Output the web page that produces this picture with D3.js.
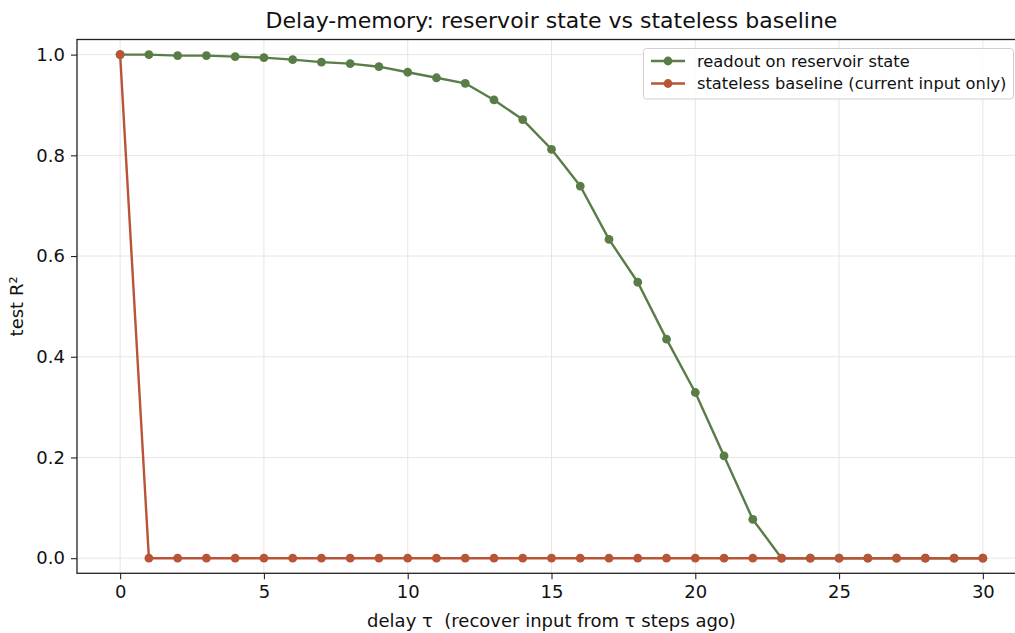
<!DOCTYPE html>
<html>
<head>
<meta charset="utf-8">
<script src="https://cdn.jsdelivr.net/npm/d3@7"></script>
<style>
  body { margin: 0; background: #fff; }
  svg { display: block; font-family: "DejaVu Sans", sans-serif; }
</style>
</head>
<body>
<svg id="chart" width="1015" height="633"></svg>
<script>
// delay values (x) and test R² for each series
const delays = [0, 1, 2, 3, 4, 5, 6, 7, 8, 9, 10, 11, 12, 13, 14, 15, 16, 17, 18, 19, 20, 21, 22, 23, 24, 25, 26, 27, 28, 29, 30];
const reservoirR2 = [1.0, 1.0, 0.998, 0.998, 0.996, 0.994, 0.990, 0.985, 0.982, 0.976, 0.965, 0.954, 0.943, 0.910, 0.871, 0.812, 0.739, 0.633, 0.548, 0.435, 0.329, 0.203, 0.077, 0, 0, 0, 0, 0, 0, 0, 0];
const baselineR2 = [1.0, 0, 0, 0, 0, 0, 0, 0, 0, 0, 0, 0, 0, 0, 0, 0, 0, 0, 0, 0, 0, 0, 0, 0, 0, 0, 0, 0, 0, 0, 0];
const xTicks = [0, 5, 10, 15, 20, 25, 30];
const yTicks = [0.0, 0.2, 0.4, 0.6, 0.8, 1.0];
const seriesNames = ["readout on reservoir state", "stateless baseline (current input only)"];

const green = "#5a7d48";
const red = "#b85537";

const margin = { top: 39.5, right: -11, bottom: 59.7, left: 77 };
const W = 1015, H = 633;

const svg = d3.select("#chart");

const x = d3.scaleLinear()
  .domain([-1.5, 31.5])
  .range([margin.left, W - margin.right]);
const y = d3.scaleLinear()
  .domain([-0.03, 1.03])
  .range([H - margin.bottom, margin.top]);

// grid
const grid = svg.append("g");
grid.selectAll(".gx").data(xTicks).enter().append("line")
  .attr("x1", d => x(d)).attr("x2", d => x(d))
  .attr("y1", margin.top).attr("y2", H - margin.bottom)
  .attr("stroke", "#e6e6e6").attr("stroke-width", 1);
grid.selectAll(".gy").data(yTicks).enter().append("line")
  .attr("y1", d => y(d)).attr("y2", d => y(d))
  .attr("x1", margin.left).attr("x2", W - margin.right)
  .attr("stroke", "#e6e6e6").attr("stroke-width", 1);

// axes
const xAxis = svg.append("g")
  .attr("transform", `translate(0,${H - margin.bottom})`)
  .call(d3.axisBottom(x).tickValues(xTicks).tickFormat(d3.format("d")).tickSizeOuter(0).tickSize(6).tickPadding(6));
const yAxis = svg.append("g")
  .attr("transform", `translate(${margin.left},0)`)
  .call(d3.axisLeft(y).tickValues(yTicks).tickFormat(d3.format(".1f")).tickSizeOuter(0).tickSize(6).tickPadding(6));

[xAxis, yAxis].forEach(a => {
  a.select(".domain").remove();
  a.selectAll("line").attr("stroke", "#222").attr("stroke-width", 1.1);
  a.selectAll("text").attr("fill", "#111").style("font-size", "18px").style("font-family", "DejaVu Sans");
});

// spines
svg.append("rect")
  .attr("x", margin.left).attr("y", margin.top)
  .attr("width", x.range()[1] - margin.left)
  .attr("height", H - margin.bottom - margin.top)
  .attr("fill", "none").attr("stroke", "#222").attr("stroke-width", 1.3);

// lines + markers
const line = d3.line().x(d => x(d[0])).y(d => y(d[1]));
const series = [
  { values: reservoirR2, color: green },
  { values: baselineR2, color: red }
];
series.forEach(s => {
  const pts = delays.map((d, i) => [d, s.values[i]]);
  svg.append("path").datum(pts)
    .attr("d", line)
    .attr("fill", "none")
    .attr("stroke", s.color)
    .attr("stroke-width", 2.4)
    .attr("stroke-linejoin", "round");
  svg.append("g").selectAll("circle").data(pts).enter().append("circle")
    .attr("cx", d => x(d[0])).attr("cy", d => y(d[1]))
    .attr("r", 4.4).attr("fill", s.color);
});

// title and labels
svg.append("text")
  .attr("x", (margin.left + x.range()[1]) / 2).attr("y", 28)
  .attr("text-anchor", "middle")
  .style("font-size", "22px").attr("fill", "#111")
  .text("Delay-memory: reservoir state vs stateless baseline");
svg.append("text")
  .attr("x", (margin.left + x.range()[1]) / 2).attr("y", 627)
  .attr("text-anchor", "middle")
  .style("font-size", "18px").style("white-space", "pre").attr("fill", "#111")
  .text("delay τ  (recover input from τ steps ago)");
svg.append("text")
  .attr("transform", `translate(23,${(margin.top + H - margin.bottom) / 2}) rotate(-90)`)
  .attr("text-anchor", "middle")
  .style("font-size", "18px").attr("fill", "#111")
  .text("test R²");

// legend
const leg = svg.append("g");
leg.append("rect")
  .attr("x", 643.5).attr("y", 48.5).attr("width", 370).attr("height", 50.5)
  .attr("rx", 3).attr("fill", "#fff").attr("fill-opacity", 0.85)
  .attr("stroke", "#d0d0d0").attr("stroke-width", 1);
[green, red].forEach((c, i) => {
  const ly = 61 + i * 22.5;
  leg.append("line")
    .attr("x1", 651).attr("x2", 685).attr("y1", ly).attr("y2", ly)
    .attr("stroke", c).attr("stroke-width", 2.4);
  leg.append("circle").attr("cx", 668).attr("cy", ly).attr("r", 4.4).attr("fill", c);
  leg.append("text")
    .attr("x", 697).attr("y", ly + 5.5)
    .style("font-size", "16.3px").attr("fill", "#111")
    .text(seriesNames[i]);
});
</script>
</body>
</html>
